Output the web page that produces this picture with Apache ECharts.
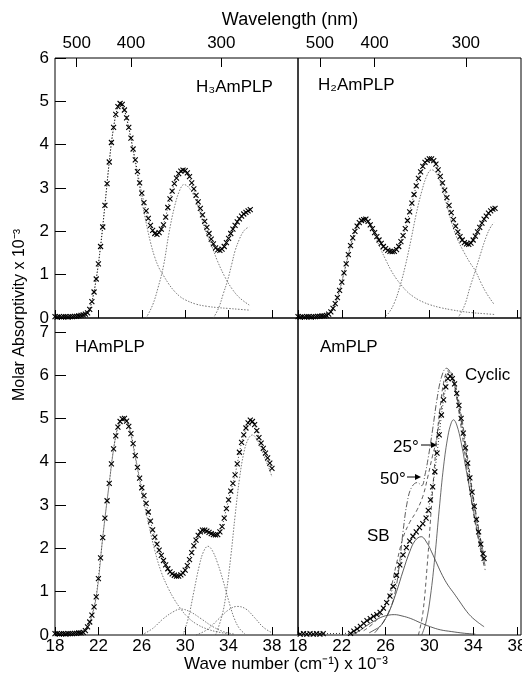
<!DOCTYPE html>
<html><head><meta charset="utf-8">
<script src="https://cdn.jsdelivr.net/npm/echarts@6/dist/echarts.min.js"></script>
<style>html,body{margin:0;padding:0;background:#fff}#c{width:522px;height:683px}</style>
</head><body><div id="c"></div>
<script>
// ---- tick labels ----
const waveTicks = [18, 22, 26, 30, 34, 38];
const wavelengthTicks = [500, 400, 300];
const topYTicks = [0, 1, 2, 3, 4, 5, 6];
const botYTicks = [0, 1, 2, 3, 4, 5, 6, 7];
const panelNames = ['H₃AmPLP', 'H₂AmPLP', 'HAmPLP', 'AmPLP'];

// ---- H3AmPLP (top left) ----
const h3Data = [[18.0,0.03],[18.2,0.02],[18.4,0.03],[18.6,0.02],[18.8,0.03],[19.0,0.03],[19.2,0.02],[19.4,0.03],[19.6,0.03],[19.8,0.04],[20.0,0.04],[20.2,0.05],[20.4,0.06],[20.6,0.07],[20.8,0.09],[21.0,0.12],[21.2,0.2],[21.4,0.38],[21.6,0.6],[21.8,0.9],[22.0,1.25],[22.2,1.65],[22.4,2.1],[22.6,2.6],[22.8,3.1],[23.0,3.6],[23.2,4.05],[23.4,4.4],[23.6,4.7],[23.8,4.88],[24.0,4.95],[24.2,4.93],[24.4,4.8],[24.6,4.62],[24.8,4.4],[25.0,4.15],[25.2,3.9],[25.4,3.65],[25.6,3.38],[25.8,3.12],[26.0,2.88],[26.2,2.66],[26.4,2.47],[26.6,2.3],[26.8,2.14],[27.0,2.02],[27.2,1.95],[27.4,1.93],[27.6,1.97],[27.8,2.05],[28.0,2.15],[28.2,2.33],[28.4,2.55],[28.6,2.75],[28.8,2.93],[29.0,3.1],[29.2,3.23],[29.4,3.33],[29.6,3.39],[29.8,3.41],[30.0,3.4],[30.2,3.35],[30.4,3.26],[30.6,3.12],[30.8,2.98],[31.0,2.83],[31.2,2.68],[31.4,2.53],[31.6,2.38],[31.8,2.23],[32.0,2.09],[32.2,1.95],[32.4,1.82],[32.6,1.71],[32.8,1.62],[33.0,1.57],[33.2,1.56],[33.4,1.59],[33.6,1.65],[33.8,1.74],[34.0,1.84],[34.2,1.95],[34.4,2.05],[34.6,2.14],[34.8,2.22],[35.0,2.29],[35.2,2.35],[35.4,2.4],[35.6,2.44],[35.8,2.47],[36.0,2.5]];
const h3Band1 = [[20.6,0.0],[21.0,0.1],[21.4,0.38],[21.8,0.9],[22.2,1.65],[22.6,2.6],[23.0,3.6],[23.4,4.4],[23.8,4.88],[24.1,4.95],[24.4,4.8],[24.8,4.38],[25.2,3.86],[25.6,3.3],[26.0,2.72],[26.4,2.2],[26.8,1.75],[27.2,1.4],[27.6,1.15],[28.0,0.98],[28.5,0.78],[29.0,0.62],[29.5,0.5],[30.0,0.42],[31.0,0.32],[32.0,0.27],[33.0,0.24],[34.0,0.22],[35.0,0.2],[36.0,0.18]];
const h3Band2 = [[26.4,0.0],[27.0,0.3],[27.5,0.7],[28.0,1.2],[28.5,1.95],[29.0,2.55],[29.5,2.95],[29.9,3.08],[30.3,3.02],[30.8,2.82],[31.3,2.48],[31.8,2.06],[32.5,1.63],[33.0,1.3],[33.7,0.93],[34.3,0.68],[35.0,0.47],[35.9,0.3]];
const h3Band3 = [[32.6,0.0],[33.1,0.24],[33.5,0.55],[33.9,0.86],[34.3,1.25],[34.6,1.55],[35.0,1.82],[35.3,1.97],[35.6,2.06],[35.9,2.1]];

// ---- H2AmPLP (top right) ----
const h2Data = [[18.0,0.03],[18.2,0.02],[18.4,0.03],[18.6,0.02],[18.8,0.03],[19.0,0.03],[19.2,0.02],[19.4,0.03],[19.6,0.03],[19.8,0.04],[20.0,0.04],[20.2,0.05],[20.4,0.05],[20.6,0.06],[20.8,0.09],[21.0,0.14],[21.2,0.22],[21.4,0.33],[21.6,0.47],[21.8,0.64],[22.0,0.83],[22.2,1.04],[22.4,1.25],[22.6,1.46],[22.8,1.67],[23.0,1.85],[23.2,2.0],[23.4,2.12],[23.6,2.2],[23.8,2.25],[24.0,2.27],[24.2,2.28],[24.4,2.23],[24.6,2.15],[24.8,2.06],[25.0,1.97],[25.2,1.88],[25.4,1.8],[25.6,1.72],[25.8,1.65],[26.0,1.6],[26.2,1.56],[26.4,1.54],[26.6,1.53],[26.8,1.54],[27.0,1.58],[27.2,1.65],[27.4,1.76],[27.6,1.9],[27.8,2.06],[28.0,2.25],[28.2,2.45],[28.4,2.65],[28.6,2.85],[28.8,3.05],[29.0,3.22],[29.2,3.37],[29.4,3.5],[29.6,3.59],[29.8,3.64],[30.0,3.67],[30.2,3.67],[30.4,3.63],[30.6,3.55],[30.8,3.42],[31.0,3.27],[31.2,3.12],[31.4,2.95],[31.6,2.78],[31.8,2.6],[32.0,2.43],[32.2,2.27],[32.4,2.12],[32.6,1.99],[32.8,1.88],[33.0,1.8],[33.2,1.74],[33.4,1.71],[33.6,1.7],[33.8,1.73],[34.0,1.8],[34.2,1.89],[34.4,1.99],[34.6,2.09],[34.8,2.19],[35.0,2.28],[35.2,2.35],[35.4,2.42],[35.6,2.47],[35.8,2.51],[36.0,2.53]];
const h2Band1 = [[20.6,0.05],[21.0,0.14],[21.4,0.33],[21.8,0.64],[22.2,1.04],[22.6,1.46],[23.0,1.85],[23.4,2.12],[23.8,2.25],[24.2,2.28],[24.6,2.15],[25.0,1.92],[25.5,1.62],[26.0,1.35],[26.5,1.1],[27.0,0.9],[27.5,0.74],[28.0,0.6],[28.5,0.5],[29.0,0.42],[29.5,0.36],[30.0,0.31],[31.0,0.24],[32.0,0.19],[33.0,0.15],[34.0,0.12],[35.0,0.1],[36.0,0.08]];
const h2Band2 = [[25.8,0.0],[26.3,0.12],[26.8,0.35],[27.3,0.72],[27.8,1.2],[28.3,1.78],[28.8,2.4],[29.3,2.92],[29.8,3.3],[30.2,3.42],[30.6,3.36],[31.1,3.05],[31.6,2.6],[32.1,2.15],[32.6,1.8],[33.2,1.5],[33.7,1.28],[34.2,1.09],[34.7,0.82],[35.2,0.58],[35.9,0.32]];
const h2Band3 = [[32.6,0.0],[33.2,0.28],[33.7,0.7],[34.2,1.09],[34.7,1.5],[35.2,1.88],[35.6,2.1],[35.9,2.2]];

// ---- HAmPLP (bottom left) ----
const hData = [[18.0,0.03],[18.2,0.03],[18.4,0.02],[18.6,0.03],[18.8,0.03],[19.0,0.02],[19.2,0.03],[19.4,0.03],[19.6,0.03],[19.8,0.04],[20.0,0.04],[20.2,0.05],[20.4,0.05],[20.6,0.06],[20.8,0.1],[21.0,0.19],[21.2,0.3],[21.4,0.46],[21.6,0.65],[21.8,0.88],[22.0,1.3],[22.2,1.78],[22.4,2.25],[22.6,2.7],[22.8,3.1],[23.0,3.5],[23.2,3.95],[23.4,4.3],[23.6,4.6],[23.8,4.8],[24.0,4.93],[24.2,4.99],[24.4,5.0],[24.6,4.94],[24.8,4.82],[25.0,4.65],[25.2,4.42],[25.4,4.14],[25.6,3.87],[25.8,3.62],[26.0,3.4],[26.2,3.22],[26.4,3.04],[26.6,2.84],[26.8,2.63],[27.0,2.43],[27.2,2.26],[27.4,2.1],[27.6,1.96],[27.8,1.84],[28.0,1.72],[28.2,1.62],[28.4,1.53],[28.6,1.46],[28.8,1.41],[29.0,1.38],[29.2,1.36],[29.4,1.36],[29.6,1.39],[29.8,1.43],[30.0,1.5],[30.2,1.6],[30.4,1.74],[30.6,1.9],[30.8,2.06],[31.0,2.19],[31.2,2.3],[31.4,2.38],[31.6,2.42],[31.8,2.42],[32.0,2.4],[32.2,2.37],[32.4,2.34],[32.6,2.32],[32.8,2.31],[33.0,2.32],[33.2,2.38],[33.4,2.5],[33.6,2.7],[33.8,2.92],[34.0,3.12],[34.2,3.32],[34.4,3.5],[34.6,3.7],[34.8,3.95],[35.0,4.22],[35.2,4.45],[35.4,4.62],[35.6,4.78],[35.8,4.9],[36.0,4.96],[36.2,4.93],[36.4,4.86],[36.6,4.72],[36.8,4.56],[37.0,4.43],[37.2,4.31],[37.4,4.2],[37.6,4.09],[37.8,3.97],[38.0,3.85]];
const hBand1 = [[20.6,0.05],[21.2,0.3],[21.8,0.88],[22.4,2.25],[23.0,3.5],[23.6,4.6],[24.0,4.93],[24.4,5.0],[24.8,4.82],[25.4,4.1],[26.0,3.3],[26.6,2.6],[27.2,1.95],[27.8,1.45],[28.4,1.1],[29.0,0.82],[29.6,0.6],[30.2,0.42],[31.0,0.26],[32.0,0.14],[33.0,0.07],[34.0,0.03]];
const hBand2 = [[26.0,0.0],[27.0,0.15],[28.0,0.38],[29.0,0.55],[29.6,0.6],[30.5,0.53],[31.5,0.37],[32.5,0.2],[33.5,0.08],[34.5,0.02]];
const hBand3 = [[29.8,0.0],[30.3,0.4],[30.8,1.0],[31.3,1.6],[31.7,1.93],[32.1,2.05],[32.5,1.95],[33.0,1.65],[33.5,1.25],[34.0,0.8],[34.5,0.4],[35.0,0.15],[35.5,0.03]];
const hBand4 = [[32.8,0.0],[33.4,0.45],[33.8,1.0],[34.2,1.8],[34.6,2.75],[35.0,3.6],[35.4,4.2],[35.8,4.52],[36.2,4.62],[36.6,4.52],[37.0,4.3],[37.4,4.05],[37.8,3.8],[38.0,3.65]];
const hBand5 = [[31.0,0.0],[32.0,0.12],[33.0,0.35],[34.0,0.58],[34.8,0.66],[35.6,0.6],[36.4,0.4],[37.2,0.18],[38.0,0.05]];

// ---- AmPLP (bottom right) ----
const amData = [[18.2,0.02],[18.5,0.03],[18.8,0.02],[19.1,0.03],[19.4,0.02],[19.7,0.03],[20.0,0.02],[20.3,0.03],[22.8,0.04],[23.1,0.09],[23.4,0.14],[23.7,0.2],[24.0,0.27],[24.3,0.33],[24.6,0.38],[24.9,0.43],[25.2,0.47],[25.5,0.52],[25.8,0.62],[26.1,0.75],[26.4,0.9],[26.7,1.12],[27.0,1.38],[27.3,1.62],[27.6,1.85],[27.9,2.02],[28.2,2.17],[28.5,2.28],[28.8,2.38],[29.1,2.48],[29.4,2.57],[29.7,2.7],[29.9,2.88],[30.1,3.12],[30.3,3.42],[30.5,3.77],[30.7,4.2],[30.9,4.62],[31.1,5.08],[31.3,5.43],[31.5,5.73],[31.7,5.92],[31.9,5.98],[32.1,5.92],[32.3,5.8],[32.5,5.58],[32.7,5.3],[32.9,5.0],[33.1,4.66],[33.3,4.32],[33.5,3.97],[33.7,3.63],[33.9,3.3],[34.1,2.97],[34.3,2.67],[34.5,2.38],[34.7,2.1],[34.9,1.88],[35.0,1.77]];
const amSB = [[24.5,0.05],[25.0,0.12],[25.5,0.2],[26.0,0.38],[26.4,0.58],[27.0,1.0],[27.6,1.48],[28.2,1.92],[28.7,2.18],[29.25,2.27],[29.8,2.12],[30.2,1.92],[30.7,1.64],[31.2,1.37],[31.7,1.15],[32.25,0.96],[32.8,0.76],[33.3,0.58],[33.8,0.43],[34.4,0.3],[35.0,0.19]];
const amWide = [[22.8,0.0],[23.5,0.08],[24.3,0.22],[25.0,0.33],[25.7,0.42],[26.3,0.46],[26.8,0.47],[27.5,0.44],[28.3,0.38],[29.2,0.28],[30.1,0.19],[31.0,0.12],[32.0,0.08],[33.2,0.04],[34.2,0.02]];
const amCyclicBand = [[29.3,0.0],[29.7,0.3],[30.1,0.9],[30.5,1.8],[30.9,2.9],[31.3,3.9],[31.7,4.6],[32.0,4.9],[32.2,4.97],[32.5,4.85],[32.9,4.45],[33.3,3.9],[33.8,3.2],[34.3,2.5],[34.8,1.9],[35.1,1.6]];
const amCyclic = [[29.0,0.0],[29.4,0.5],[29.8,1.6],[30.2,3.0],[30.6,4.3],[31.0,5.3],[31.4,5.95],[31.7,6.1],[32.0,6.0],[32.4,5.6],[32.9,4.8],[33.4,3.9],[33.9,3.0],[34.4,2.3],[34.9,1.7],[35.1,1.5]];
const am25 = [[24.0,0.1],[25.0,0.3],[25.8,0.6],[26.4,1.0],[27.0,1.65],[27.6,2.25],[28.2,2.6],[28.8,2.85],[29.4,3.2],[29.9,3.7],[30.3,4.15],[30.6,4.45],[31.0,5.1],[31.4,5.75],[31.6,6.0],[31.9,6.08],[32.3,5.85],[32.8,5.25],[33.3,4.45],[33.8,3.55],[34.3,2.75],[34.8,2.05],[35.1,1.7]];
const am50 = [[25.0,0.05],[25.8,0.3],[26.4,0.6],[26.8,0.9],[27.2,1.5],[27.6,2.4],[28.0,3.1],[28.4,3.42],[28.9,3.52],[29.3,3.45],[29.6,3.7],[29.9,4.1],[30.3,4.75],[30.7,5.45],[31.1,5.95],[31.55,6.16],[31.9,6.08],[32.3,5.75],[32.8,5.1],[33.3,4.3],[33.8,3.45],[34.3,2.7],[34.8,2.05],[35.1,1.75]];

// ---- build ----
const FONT = '"Liberation Sans", Arial, Helvetica, sans-serif';
const chart = echarts.init(document.getElementById('c'), null, {renderer: 'canvas'});
const wlPos = wavelengthTicks.map(l => 1e4 / l);
const panels = [
  {left: 55, top: 58, width: 243, height: 260, xmax: 40.4, ymax: 6, yTicks: topYTicks, leftCol: true, topRow: true},
  {left: 298, top: 58, width: 223, height: 260, xmax: 38.37, ymax: 6, yTicks: topYTicks, leftCol: false, topRow: true},
  {left: 55, top: 318, width: 243, height: 317, xmax: 40.4, ymax: 7.32, yTicks: botYTicks, leftCol: true, topRow: false},
  {left: 298, top: 318, width: 223, height: 317, xmax: 38.37, ymax: 7.32, yTicks: botYTicks, leftCol: false, topRow: false}
];
const grid = [], xAxis = [], yAxis = [];
const axisTxt = {color: '#000', fontSize: 17, fontFamily: FONT};
panels.forEach((p, i) => {
  grid.push({left: p.left, top: p.top, width: p.width, height: p.height, show: true,
    borderColor: '#000', borderWidth: 1, backgroundColor: 'transparent',
    containLabel: false, outerBoundsMode: 'none'});
  xAxis.push({type: 'value', gridIndex: i, min: 18, max: p.xmax, position: 'bottom',
    axisLine: {show: false}, splitLine: {show: false},
    axisTick: {show: true, inside: true, length: 8, customValues: waveTicks, lineStyle: {color: '#000', width: 1}},
    axisLabel: Object.assign({show: !p.topRow, customValues: waveTicks, margin: 3}, axisTxt)});
  yAxis.push({type: 'value', gridIndex: i, min: 0, max: p.ymax,
    axisLine: {show: false}, splitLine: {show: false},
    axisTick: {show: p.leftCol, inside: true, length: 11, customValues: p.yTicks, lineStyle: {color: '#000', width: 1}},
    axisLabel: Object.assign({show: p.leftCol, customValues: p.yTicks, margin: 6}, axisTxt)});
});
// wavelength axes on top panels
[0, 1].forEach(i => {
  xAxis.push({type: 'value', gridIndex: i, min: 18, max: panels[i].xmax, position: 'top',
    axisLine: {show: false}, splitLine: {show: false},
    axisTick: {show: true, inside: true, length: 9, customValues: wlPos, lineStyle: {color: '#000', width: 1}},
    axisLabel: Object.assign({show: true, customValues: wlPos, margin: 6,
      formatter: v => String(Math.round(1e4 / v))}, axisTxt)});
});

const XSYM = 'path://M0,0L10,10M0,10L10,0';
function dataSeries(d, i) {
  return {type: 'line', xAxisIndex: i, yAxisIndex: i, data: d, symbol: XSYM, symbolSize: 5,
    showSymbol: true, smooth: false, silent: true,
    itemStyle: {color: 'rgba(0,0,0,0)', borderColor: '#000', borderWidth: 1.1},
    lineStyle: {color: '#000', width: 0.8, type: [1, 2]}, z: 5};
}
function band(d, i, type, color) {
  return {type: 'line', xAxisIndex: i, yAxisIndex: i, data: d, showSymbol: false, smooth: 0.4,
    silent: true, lineStyle: {color: color || '#555', width: 0.8, type: type || 'solid'}, z: 3};
}
const dot = [1.5, 1.5];
const series = [
  band(h3Band1, 0, dot), band(h3Band2, 0, dot), band(h3Band3, 0, dot), dataSeries(h3Data, 0),
  band(h2Band1, 1, dot), band(h2Band2, 1, dot), band(h2Band3, 1, dot), dataSeries(h2Data, 1),
  band(hBand1, 2, dot), band(hBand2, 2, dot), band(hBand3, 2, dot), band(hBand4, 2, dot), band(hBand5, 2, dot), dataSeries(hData, 2),
  band(amWide, 3, 'solid', '#333'), band(amSB, 3, 'solid', '#333'), band(amCyclicBand, 3, 'solid', '#444'),
  band(amCyclic, 3, [4, 3], '#333'), band(am25, 3, [4, 3], '#333'), band(am50, 3, [6, 2, 1, 2], '#333'),
  dataSeries(amData, 3)
];

function txt(x, y, s, size, align, extra) {
  return Object.assign({type: 'text', x: x, y: y, silent: true,
    style: {text: s, fill: '#000', font: size + 'px ' + FONT, textAlign: align || 'left', textVerticalAlign: 'middle'}}, extra || {});
}
function arrow(x1, x2, y) {
  return [
    {type: 'line', silent: true, shape: {x1: x1, y1: y, x2: x2 - 4, y2: y}, style: {stroke: '#000', lineWidth: 1}},
    {type: 'polygon', silent: true, shape: {points: [[x2, y], [x2 - 6, y - 3], [x2 - 6, y + 3]]}, style: {fill: '#000'}}
  ];
}
const graphic = [
  txt(290, 20, 'Wavelength (nm)', 18, 'center'),
  txt(286, 664, 'Wave number (cm⁻¹) x 10⁻³', 17, 'center'),
  txt(20, 315, 'Molar Absorptivity x 10⁻³', 16, 'center', {rotation: Math.PI / 2}),
  txt(196, 87, panelNames[0], 17),
  txt(318, 85, panelNames[1], 17),
  txt(75, 347, panelNames[2], 17),
  txt(320, 347, panelNames[3], 17),
  txt(465, 375, 'Cyclic', 17),
  txt(393, 447, '25°', 17),
  txt(380, 479, '50°', 17),
  txt(367, 536, 'SB', 17),
  ...arrow(421, 437, 445),
  ...arrow(407, 421, 477)
];

chart.setOption({animation: false, backgroundColor: '#fff', grid, xAxis, yAxis, series, graphic});
</script></body></html>
